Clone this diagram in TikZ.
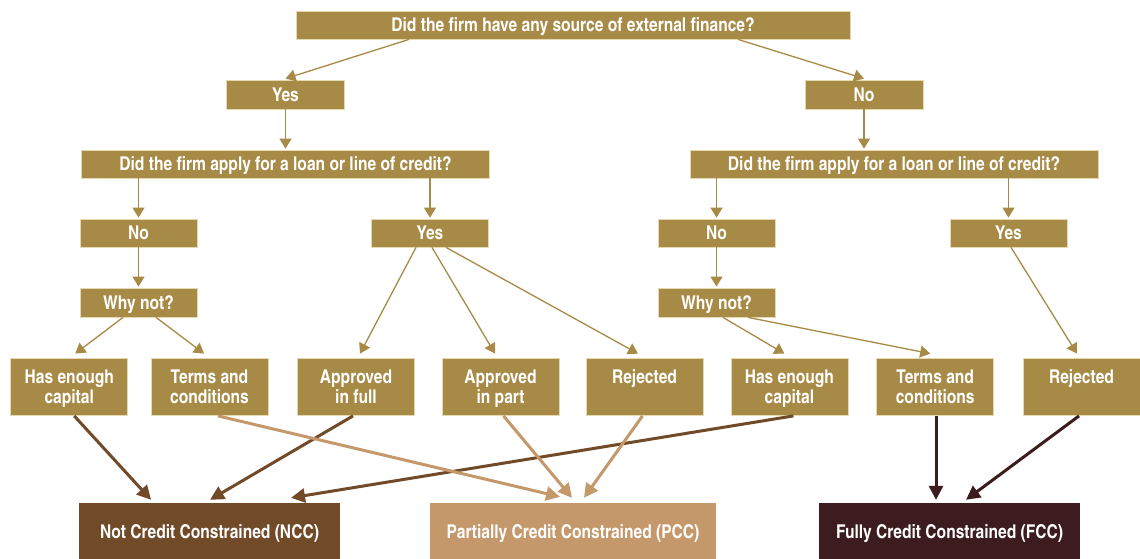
\documentclass[tikz,border=0pt]{standalone}
\usepackage{fontspec}
\setmainfont{TeX Gyre Heros Cn}
\usetikzlibrary{arrows.meta,calc}
\definecolor{gold}{HTML}{A78A46}
\definecolor{goldedge}{HTML}{E6D9B2}
\definecolor{nccc}{HTML}{714A28}
\definecolor{pccc}{HTML}{C4986A}
\definecolor{fccc}{HTML}{3C1C1E}
\tikzset{
  gbox/.style={fill=gold,draw=goldedge,line width=0.8pt,text=white,inner sep=0pt,
    minimum height=28pt,text depth=0pt,font=\bfseries\fontsize{19}{19.5}\selectfont,align=center},
  tallbox/.style={gbox,minimum width=117pt,minimum height=57pt},
  resbox/.style={inner sep=0pt,minimum width=261pt,minimum height=56pt,text=white,text depth=0pt,
    font=\bfseries\fontsize{19}{20}\selectfont},
  thin/.style={draw=gold,line width=1.3pt,-{Triangle[width=12pt,length=10pt]}},
  thick/.style={line width=3pt,-{Triangle[width=14pt,length=14pt]}},
}
\begin{document}
\begin{tikzpicture}[x=1pt,y=-1pt]
\useasboundingbox (0,0) rectangle (1140,558);
% level 0
\node[gbox,minimum width=554pt] (top) at (573,25) {Did the firm have any source of external finance?};
% level 1
\node[gbox,minimum width=118pt,minimum height=29pt] (yes1) at (285.5,94.5) {Yes};
\node[gbox,minimum width=118pt,minimum height=29pt] (no1) at (864,94.5) {No};
% level 2
\node[gbox,minimum width=408pt] (ql) at (285.5,164) {Did the firm apply for a loan or line of credit?};
\node[gbox,minimum width=408pt] (qr) at (894,164) {Did the firm apply for a loan or line of credit?};
% level 3
\node[gbox,minimum width=117pt] (nol) at (138.5,233) {No};
\node[gbox,minimum width=117pt] (yesl) at (430,233) {Yes};
\node[gbox,minimum width=117pt] (nor) at (716.5,233) {No};
\node[gbox,minimum width=117pt] (yesr) at (1008.5,233) {Yes};
% level 4
\node[gbox,minimum width=117pt,minimum height=29pt] (whyl) at (138.5,302.5) {Why not?};
\node[gbox,minimum width=117pt,minimum height=29pt] (whyr) at (716.5,302.5) {Why not?};
% level 5
\node[tallbox] (hasl) at (69.25,386.5) {Has enough\\capital};
\node[tallbox] (terml) at (209.5,386.5) {Terms and\\conditions};
\node[tallbox] (appf) at (356,386.5) {Approved\\in full};
\node[tallbox] (appp) at (500.5,386.5) {Approved\\in part};
\node[tallbox] (rejl) at (644.5,386.5) {Rejected\\\mbox{}};
\node[tallbox] (hasr) at (789.4,386.5) {Has enough\\capital};
\node[tallbox] (termr) at (935.2,386.5) {Terms and\\conditions};
\node[tallbox] (rejr) at (1081.5,386.5) {Rejected\\\mbox{}};
% results
\node[resbox,fill=nccc] (ncc) at (209.5,531) {Not Credit Constrained (NCC)};
\node[resbox,fill=pccc,minimum width=286pt] (pcc) at (573,531) {Partially Credit Constrained (PCC)};
\node[resbox,fill=fccc] (fcc) at (949.5,531) {Fully Credit Constrained (FCC)};
% thin connectors
\draw[thin] ($(top.south)+(-164,0)$) -- ($(yes1.north)+(0,-1)$);
\draw[thin] ($(top.south)+(165,0)$) -- ($(no1.north)+(0,-1)$);
\draw[thin] (yes1.south) -- ($(ql.north)+(0,-1)$);
\draw[thin] (no1.south) -- ($(no1.south |- qr.north)+(0,-1)$);
\draw[thin] (ql.south -| nol.north) -- ($(nol.north)+(0,-1)$);
\draw[thin] (ql.south -| yesl.north) -- ($(yesl.north)+(0,-1)$);
\draw[thin] (qr.south -| nor.north) -- ($(nor.north)+(0,-1)$);
\draw[thin] (qr.south -| yesr.north) -- ($(yesr.north)+(0,-1)$);
\draw[thin] (nol.south) -- ($(whyl.north)+(0,-1)$);
\draw[thin] (nor.south) -- ($(whyr.north)+(0,-1)$);
\draw[thin] ($(whyl.south)+(-15.5,0)$) -- ($(hasl.north)+(6,-4)$);
\draw[thin] ($(whyl.south)+(17.5,0)$) -- ($(terml.north)+(-5.5,-4)$);
\draw[thin] ($(yesl.south)+(-14,0)$) -- ($(appf.north)+(4,-4)$);
\draw[thin] ($(yesl.south)+(2,0)$) -- ($(appp.north)+(-5.5,-4)$);
\draw[thin] ($(yesl.south)+(16,0)$) -- ($(rejl.north)+(-6.5,-4)$);
\draw[thin] ($(whyr.south)+(6.5,0)$) -- ($(hasr.north)+(-5,-4)$);
\draw[thin] ($(whyr.south)+(31.5,0)$) -- ($(termr.north)+(-5,-4)$);
\draw[thin] ($(yesr.south)+(2.5,0)$) -- ($(rejr.north)+(-4.5,-4)$);
% thick connectors
\draw[thick,draw=nccc] ($(hasl.south)+(5,0.5)$) -- ($(ncc.north)+(-58.5,-3)$);
\draw[thick,draw=nccc] ($(appf.south)+(-3,0.5)$) -- ($(ncc.north)+(0.5,-3)$);
\draw[thick,draw=nccc] ($(hasr.south)+(4,0.5)$) -- ($(ncc.north)+(81.5,-5)$);
\draw[thick,draw=pccc] ($(terml.south)+(8.5,0.5)$) -- ($(pcc.north)+(-13,-6)$);
\draw[thick,draw=pccc] ($(appp.south)+(3,0.5)$) -- ($(pcc.north)+(-1,-5)$);
\draw[thick,draw=pccc] ($(rejl.south)+(-2,0.5)$) -- ($(pcc.north)+(11,-5)$);
\draw[thick,draw=fccc] ($(termr.south)+(0.8,0.5)$) -- ($(termr.south |- fcc.north)+(0.8,-3)$);
\draw[thick,draw=fccc] ($(rejr.south)+(-2.5,0.5)$) -- ($(fcc.north)+(16.5,-3)$);
\end{tikzpicture}
\end{document}
